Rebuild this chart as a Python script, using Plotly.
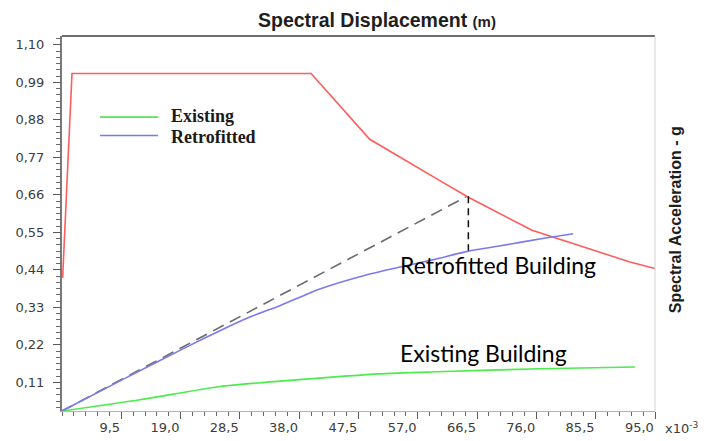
import plotly.graph_objects as go

# Spectral displacement in units of 1e-3 m, spectral acceleration in g
demand_sd = [0.1, 1.6, 39.9, 49.3, 60.6, 65.1, 75.3, 91.0, 95.0]
demand_sa = [0.39, 0.99, 0.99, 0.797, 0.675, 0.627, 0.530, 0.437, 0.418]

existing_sd = [0, 12.5, 25.3, 38.0, 50.9, 60.0, 76.6, 91.8]
existing_sa = [0, 0.033, 0.072, 0.092, 0.109, 0.115, 0.124, 0.129]

retrofit_sd = [0, 10, 20, 25.8, 30, 34.9, 41.3, 48.3, 53.6, 59.5, 65.1, 70, 77.7, 81.9]
retrofit_sa = [0, 0.095, 0.188, 0.24, 0.275, 0.309, 0.358, 0.397, 0.42, 0.444,
               0.469, 0.484, 0.508, 0.52]

# initial-stiffness line and the performance-point drop line
elastic_sd = [0, 64.7]
elastic_sa = [0, 0.628]
perf_sd = [65.1, 65.1]
perf_sa = [0.63, 0.471]

x_ticks = [9.5, 19.0, 28.5, 38.0, 47.5, 57.0, 66.5, 76.0, 85.5, 95.0]
x_tick_labels = ["9,5", "19,0", "28,5", "38,0", "47,5", "57,0", "66,5", "76,0", "85,5", "95,0"]
y_ticks = [0.11, 0.22, 0.33, 0.44, 0.55, 0.66, 0.77, 0.88, 0.99, 1.10]
y_tick_labels = ["0,11", "0,22", "0,33", "0,44", "0,55", "0,66", "0,77", "0,88", "0,99", "1,10"]

RED = "#ff5c5c"
GREEN = "#4cec4c"
BLUE = "#7a7aee"
TICK_FONT = dict(family="DejaVu Sans", size=13, color="#3c3c3c")
LEGEND_FONT = dict(family="Liberation Serif", size=18, color="#1a1a1a")

fig = go.Figure()
fig.add_trace(go.Scatter(x=demand_sd, y=demand_sa, mode="lines",
                         line=dict(color=RED, width=1.6), showlegend=False))
fig.add_trace(go.Scatter(x=elastic_sd, y=elastic_sa, mode="lines",
                         line=dict(color="#6a6a6a", width=1.6, dash="12px,7px"), showlegend=False))
fig.add_trace(go.Scatter(x=existing_sd, y=existing_sa, mode="lines",
                         line=dict(color=GREEN, width=1.6, shape="spline", smoothing=0.6),
                         name="Existing", showlegend=False))
fig.add_trace(go.Scatter(x=retrofit_sd, y=retrofit_sa, mode="lines",
                         line=dict(color=BLUE, width=1.6, shape="spline", smoothing=0.6),
                         name="Retrofitted", showlegend=False))
fig.add_trace(go.Scatter(x=perf_sd, y=perf_sa, mode="lines",
                         line=dict(color="#111111", width=1.5, dash="7px,5px"), showlegend=False))
# carrier for the left ruler axis
fig.add_trace(go.Scatter(x=[None], y=[None], yaxis="y2", showlegend=False, hoverinfo="skip"))

fig.update_layout(
    width=704, height=441,
    margin=dict(l=62, r=49, t=36, b=30, autoexpand=False),
    paper_bgcolor="white", plot_bgcolor="white",
    separators=",.",
    xaxis=dict(
        range=[0, 95], showgrid=False, zeroline=False, automargin=False,
        showline=True, linecolor="#b4b4b4", linewidth=1,
        tickmode="array", tickvals=x_ticks, ticktext=x_tick_labels,
        ticks="outside", ticklen=7, tickwidth=1.3, tickcolor="#5a5a5a",
        ticklabelposition="outside left", ticklabelstandoff=4, tickfont=TICK_FONT,
        minor=dict(dtick=1.9, tick0=0, ticks="outside", ticklen=4,
                   tickwidth=1.2, tickcolor="#6a6a6a"),
    ),
    yaxis=dict(
        range=[0, 1.10], showgrid=False, zeroline=False, automargin=False,
        showline=True, linecolor="#7a7a7a", linewidth=2,
        ticks="", showticklabels=False,
    ),
    yaxis2=dict(
        overlaying="y", anchor="x", side="left", automargin=False,
        range=[0.0258, 1.1258], showgrid=False, zeroline=False, showline=False,
        tickmode="array", tickvals=y_ticks, ticktext=y_tick_labels,
        ticks="outside", ticklen=8, tickwidth=1.3, tickcolor="#5a5a5a",
        ticklabelstandoff=6, tickfont=TICK_FONT,
        minor=dict(dtick=0.11 / 6, tick0=0, ticks="outside", ticklen=5,
                   tickwidth=1.2, tickcolor="#6a6a6a"),
    ),
    shapes=[
        dict(type="line", xref="paper", yref="paper", x0=0, x1=1, y0=1, y1=1,
             line=dict(color="#6e6e6e", width=2)),
        dict(type="line", xref="paper", yref="paper", x0=1, x1=1, y0=0, y1=1,
             line=dict(color="#d2d2d2", width=1)),
        # legend keys
        dict(type="line", xref="x", yref="y", x0=6.1, x1=15.4, y0=0.862, y1=0.862,
             line=dict(color=GREEN, width=1.6)),
        dict(type="line", xref="x", yref="y", x0=6.1, x1=15.4, y0=0.808, y1=0.808,
             line=dict(color=BLUE, width=1.6)),
    ],
    annotations=[
        dict(text="<b>Spectral Displacement</b> <b><span style='font-size:15px'>(m)</span></b>",
             xref="paper", yref="paper", x=0.531, y=1.043, showarrow=False,
             xanchor="center", yanchor="middle",
             font=dict(family="Liberation Sans", size=19.5, color="#1e1e1e")),
        dict(text="<b>Spectral Acceleration - g</b>", textangle=-90,
             xref="paper", yref="paper", x=1.034, y=0.509, showarrow=False,
             xanchor="center", yanchor="middle",
             font=dict(family="Liberation Sans", size=16, color="#1e1e1e")),
        dict(text="x10<sup>-3</sup>", xref="paper", yref="paper", x=1.045, y=-0.045,
             showarrow=False, xanchor="center", yanchor="middle", font=TICK_FONT),
        dict(text="<b>Existing</b>", xref="x", yref="y", x=17.1, y=0.864,
             showarrow=False, xanchor="left", yanchor="middle", font=LEGEND_FONT),
        dict(text="<b>Retrofitted</b>", xref="x", yref="y", x=17.1, y=0.805,
             showarrow=False, xanchor="left", yanchor="middle", font=LEGEND_FONT),
        dict(text="Retrofitted Building", xref="x", yref="y", x=53.8, y=0.428,
             showarrow=False, xanchor="left", yanchor="middle",
             font=dict(family="Lato", size=23, color="#000000")),
        dict(text="Existing Building", xref="x", yref="y", x=53.8, y=0.170,
             showarrow=False, xanchor="left", yanchor="middle",
             font=dict(family="Lato", size=23, color="#000000")),
    ],
)

fig.write_html("out.html")
